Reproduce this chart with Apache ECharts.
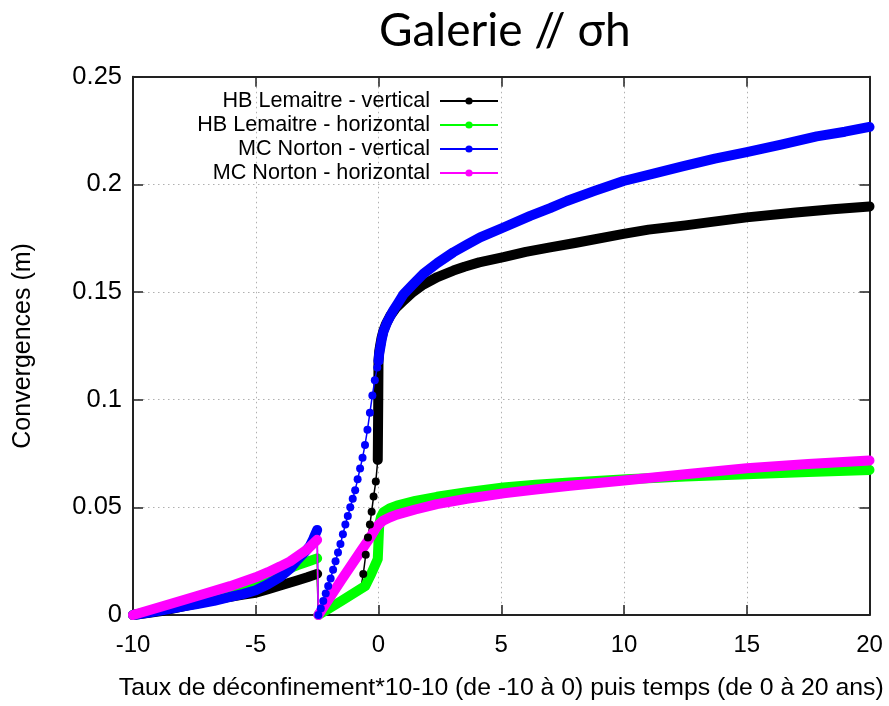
<!DOCTYPE html>
<html>
<head>
<meta charset="utf-8">
<script src="https://cdn.jsdelivr.net/npm/echarts@6/dist/echarts.min.js"></script>
<style>
html,body{margin:0;padding:0;background:#fff;}
#chart{width:889px;height:706px;}
</style>
</head>
<body>
<div id="chart"></div>
<script>
// ---- data ----
const titleText = 'Galerie // σh';
const xAxisTitle = 'Taux de déconfinement*10-10 (de -10 à 0) puis temps (de 0 à 20 ans)';
const yAxisTitle = 'Convergences (m)';
const seriesNames = ['HB Lemaitre - vertical', 'HB Lemaitre - horizontal', 'MC Norton - vertical', 'MC Norton - horizontal'];
const xTicks = [-10, -5, 0, 5, 10, 15, 20];
const yTicks = [0, 0.05, 0.1, 0.15, 0.2, 0.25];

// HB Lemaitre - vertical (black)
const blackPre = [[-10,0],[-8.76,0.002],[-7.39,0.0054],[-6.04,0.0085],[-5.5,0.0095],[-5,0.0103],[-4.5,0.012],[-4,0.0137],[-3.32,0.016],[-2.9,0.0175],[-2.5,0.0191]];
const blackLink = [[-2.5,0.0191],[-2.45,0],[-1.6,0.005],[-0.75,0.0105],[-0.62,0.019]];
const blackDots = [[-0.62,0.019],[-0.52,0.028],[-0.43,0.036],[-0.35,0.042],[-0.28,0.048],[-0.2,0.055],[-0.11,0.062],[-0.03,0.072]];
const blackPost = [[-0.03,0.072],[-0.01,0.1],[0,0.118],[0.03,0.1225],[0.07,0.1254],[0.12,0.1285],[0.2,0.132],[0.3,0.135],[0.48,0.139],[0.7,0.1425],[1.02,0.146],[1.4,0.150],[1.83,0.1535],[2.4,0.157],[3.05,0.16],[3.5,0.1618],[4.1,0.1638],[5.09,0.1662],[6,0.1687],[6.99,0.1708],[8,0.1728],[9.98,0.177],[11,0.179],[12.5,0.181],[13.5,0.1825],[15,0.1847],[17,0.187],[18.5,0.1885],[20,0.1898]];

// HB Lemaitre - horizontal (green)
const greenPre = [[-10,0],[-8.76,0.0033],[-7.39,0.0072],[-6.04,0.011],[-5,0.0148],[-4.5,0.0172],[-4,0.02],[-3.32,0.0231],[-2.9,0.0247],[-2.5,0.0263]];
const greenLink = [[-2.5,0.0263],[-2.45,0]];
const greenPost = [[-2.45,0],[-1.5,0.0066],[-0.54,0.0135],[-0.3,0.019],[-0.03,0.026],[0,0.034],[0.03,0.042],[0.1,0.0455],[0.2,0.0477],[0.45,0.0495],[0.75,0.0508],[1.5,0.053],[2.38,0.0549],[3.6,0.057],[5.09,0.0592],[6.4,0.0605],[7.8,0.0615],[10.1,0.0631],[12.5,0.0643],[15,0.0654],[17.5,0.0664],[20,0.0674]];

// MC Norton - vertical (blue)
const bluePre = [[-10,0],[-9.4,0.001],[-8.76,0.0023],[-8,0.0039],[-7.39,0.0051],[-6.7,0.0066],[-6.04,0.0084],[-5.5,0.0098],[-5,0.0115],[-4.5,0.0143],[-4,0.0177],[-3.6,0.0215],[-3.32,0.0254],[-3.0,0.0292],[-2.8,0.032],[-2.65,0.0355],[-2.5,0.0395]];
const blueLink = [[-2.5,0.0395],[-2.45,0]];
const blueDots = [[-2.45,0],[-2.35,0.003],[-2.25,0.0065],[-2.15,0.010],[-2.05,0.0135],[-1.95,0.017],[-1.85,0.021],[-1.75,0.025],[-1.65,0.029],[-1.55,0.033],[-1.45,0.0375],[-1.35,0.042],[-1.25,0.046],[-1.15,0.050],[-1.05,0.054],[-0.95,0.058],[-0.85,0.063],[-0.75,0.068],[-0.65,0.073],[-0.55,0.079],[-0.45,0.086],[-0.35,0.094],[-0.25,0.102],[-0.15,0.109],[-0.05,0.115],[0,0.118]];
const bluePost = [[0,0.118],[0.03,0.1215],[0.07,0.124],[0.13,0.128],[0.2,0.1316],[0.35,0.136],[0.61,0.1416],[0.8,0.145],[1.02,0.149],[1.4,0.1535],[1.83,0.1585],[2.4,0.1635],[3.05,0.1685],[3.6,0.172],[4.14,0.1754],[5.09,0.18],[6.18,0.1854],[6.99,0.189],[7.67,0.1923],[8.8,0.197],[9.98,0.2016],[11.2,0.205],[12.42,0.2085],[13.7,0.212],[15,0.215],[16.4,0.2185],[17.85,0.2223],[19,0.2245],[20,0.2267]];

// MC Norton - horizontal (magenta)
const magentaPre = [[-10,0],[-8.76,0.0042],[-7.39,0.0088],[-6.04,0.0134],[-5,0.0175],[-4.5,0.0199],[-4,0.0226],[-3.6,0.0249],[-3.32,0.0272],[-2.9,0.0305],[-2.5,0.0349]];
const magentaLink = [[-2.5,0.0349],[-2.45,0]];
const magentaPost = [[-2.45,0],[-1.5,0.0165],[-0.7,0.030],[-0.34,0.036],[-0.15,0.0395],[-0.07,0.041],[0.05,0.0425],[0.2,0.0439],[0.45,0.0453],[0.75,0.0466],[1.5,0.049],[2.38,0.0515],[3.6,0.054],[5.09,0.0565],[6.4,0.0583],[7.8,0.06],[10.1,0.0626],[12.5,0.0654],[15,0.0682],[17.5,0.0701],[20,0.0718]];

const colors = ['#000000', '#00ff00', '#0000ff', '#ff00ff'];

// ---- chart ----
const chart = echarts.init(document.getElementById('chart'), null, {renderer: 'canvas'});
const FONT = '"Liberation Sans", Arial, sans-serif';
const BAND = 10;

function thin(name, color, data, dots) {
  return {
    name: name, type: 'line', data: data, xAxisIndex: 0, yAxisIndex: 0,
    symbol: 'circle', symbolSize: 8, showSymbol: !!dots, clip: false,
    itemStyle: {color: color},
    lineStyle: {color: color, width: 1.5},
    emphasis: {disabled: true}, silent: true
  };
}
function band(name, color, data) {
  return {
    name: name, type: 'line', data: data, xAxisIndex: 0, yAxisIndex: 0,
    symbol: 'none', clip: false,
    itemStyle: {color: color},
    lineStyle: {color: color, width: BAND, cap: 'round', join: 'round'},
    emphasis: {disabled: true}, silent: true
  };
}

const series = [
  thin(seriesNames[0], colors[0], blackDots, true),
  thin(seriesNames[0], colors[0], blackLink, false),
  band(seriesNames[0], colors[0], blackPre),
  band(seriesNames[0], colors[0], blackPost),

  thin(seriesNames[1], colors[1], greenLink, false),
  band(seriesNames[1], colors[1], greenPre),
  band(seriesNames[1], colors[1], greenPost),

  thin(seriesNames[2], colors[2], blueDots, true),
  thin(seriesNames[2], colors[2], blueLink, false),
  band(seriesNames[2], colors[2], bluePre),
  band(seriesNames[2], colors[2], bluePost),

  thin(seriesNames[3], colors[3], magentaLink, false),
  band(seriesNames[3], colors[3], magentaPre),
  band(seriesNames[3], colors[3], magentaPost)
];

const legendRowTops = [90, 114, 138, 162];
const legends = seriesNames.map(function (n, i) {
  return {
    data: [n], orient: 'vertical', right: 390, top: legendRowTops[i],
    align: 'right', padding: 0, itemWidth: 58, itemHeight: 9, selectedMode: false,
    textStyle: {fontFamily: FONT, fontSize: 21.6, color: '#000', padding: [0, 5, 0, 0]},
    lineStyle: {width: 2}
  };
});

const axisCommonX = {
  type: 'value', min: -10, max: 20, interval: 5
};
const axisCommonY = {
  type: 'value', min: 0, max: 0.25, interval: 0.05
};

chart.setOption({
  animation: false,
  backgroundColor: '#ffffff',
  title: {
    text: titleText, left: 374, top: 3,
    textStyle: {fontFamily: 'Lato, "Open Sans", sans-serif', fontSize: 46, fontWeight: 'normal', color: '#000'}
  },
  legend: legends,
  grid: {left: 133, right: 19.5, top: 76.8, bottom: 87.7, containLabel: false},
  xAxis: [
    Object.assign({}, axisCommonX, {
      position: 'bottom',
      name: xAxisTitle, nameLocation: 'middle', nameGap: 61,
      nameTextStyle: {fontFamily: FONT, fontSize: 24.8, color: '#000'},
      axisLine: {show: true, onZero: false, lineStyle: {color: '#222', width: 2}},
      axisTick: {show: true, inside: true, length: 10, lineStyle: {color: '#222', width: 1.5}},
      axisLabel: {show: true, margin: 18, fontFamily: FONT, fontSize: 24, color: '#000',
        customValues: xTicks},
      splitLine: {show: true, lineStyle: {color: '#b0b0b0', width: 1, type: [1.5, 3.5]}}
    }),
    Object.assign({}, axisCommonX, {
      position: 'top',
      axisLine: {show: true, onZero: false, lineStyle: {color: '#222', width: 2}},
      axisTick: {show: true, inside: true, length: 10, lineStyle: {color: '#222', width: 1.5}},
      axisLabel: {show: false},
      splitLine: {show: false}
    })
  ],
  yAxis: [
    Object.assign({}, axisCommonY, {
      position: 'left',
      name: yAxisTitle, nameLocation: 'middle', nameGap: 97, nameRotate: 90,
      nameTextStyle: {fontFamily: FONT, fontSize: 25, color: '#000'},
      axisLine: {show: true, onZero: false, lineStyle: {color: '#222', width: 2}},
      axisTick: {show: true, inside: true, length: 10, lineStyle: {color: '#222', width: 1.5}},
      axisLabel: {show: true, margin: 11, fontFamily: FONT, fontSize: 25.5, color: '#000',
        customValues: yTicks,
        formatter: function (v) { return String(+v.toFixed(2)); }},
      splitLine: {show: true, lineStyle: {color: '#b0b0b0', width: 1, type: [1.5, 3.5]}}
    }),
    Object.assign({}, axisCommonY, {
      position: 'right',
      axisLine: {show: true, onZero: false, lineStyle: {color: '#222', width: 2}},
      axisTick: {show: true, inside: true, length: 10, lineStyle: {color: '#222', width: 1.5}},
      axisLabel: {show: false},
      splitLine: {show: false}
    })
  ],
  series: series
});
</script>
</body>
</html>
